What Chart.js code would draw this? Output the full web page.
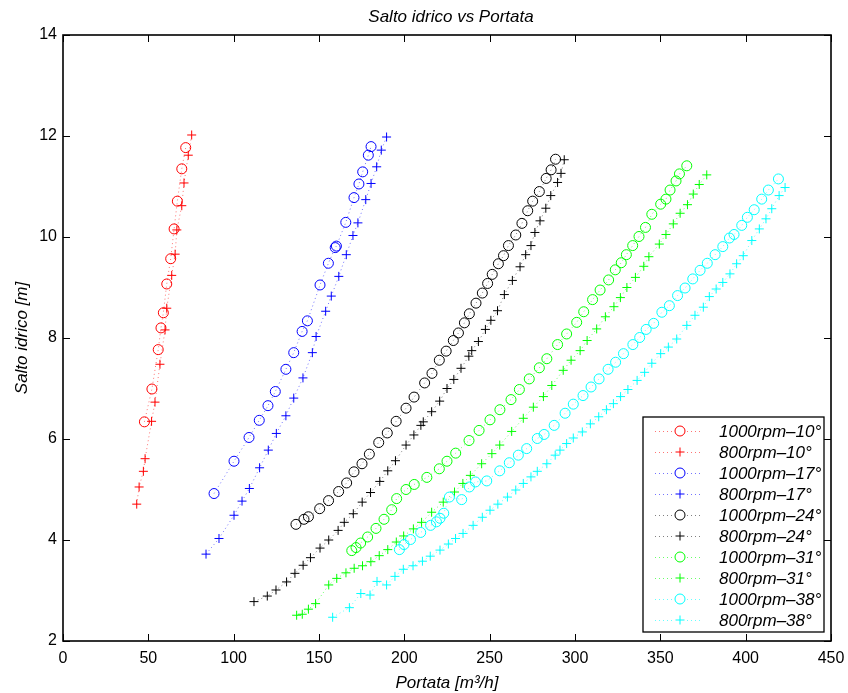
<!DOCTYPE html>
<html>
<head>
<meta charset="utf-8">
<title>Salto idrico vs Portata</title>
<script src="https://cdn.jsdelivr.net/npm/chart.js@4/dist/chart.umd.min.js"></script>
<style>
    html, body { margin: 0; padding: 0; background: #fff; }
    canvas { display: block; }
</style>
</head>
<body>
<canvas id="grafico" width="848" height="693"></canvas>
<script>

// tick dei due assi
const xTicks = [0, 50, 100, 150, 200, 250, 300, 350, 400, 450];
const yTicks = [2, 4, 6, 8, 10, 12, 14];

const etichette = [
    '1000rpm–10°', '800rpm–10°',
    '1000rpm–17°', '800rpm–17°',
    '1000rpm–24°', '800rpm–24°',
    '1000rpm–31°', '800rpm–31°',
    '1000rpm–38°', '800rpm–38°'
];

// portata [m3/h] e salto idrico [m]
const portata1000_10 = [47.7, 52.1, 55.8, 57.4, 58.8, 60.8, 63.1, 65.1, 67.0, 69.6, 71.9];
const salto1000_10 = [6.34, 6.99, 7.77, 8.20, 8.50, 9.07, 9.57, 10.16, 10.71, 11.35, 11.77];

const portata800_10 = [43.2, 44.6, 47.1, 48.1, 51.9, 53.9, 56.8, 59.8, 60.8, 63.7, 65.7, 66.7, 69.6, 70.9, 73.4, 75.4];
const salto800_10 = [4.71, 5.05, 5.36, 5.61, 6.35, 6.73, 7.48, 8.16, 8.59, 9.24, 9.66, 10.14, 10.62, 11.07, 11.62, 12.02];

const portata1000_17 = [88.5, 100.2, 109.0, 115.0, 120.1, 124.4, 130.6, 135.2, 140.1, 143.2, 150.6, 155.5, 159.5, 160.2, 165.7, 170.5, 173.4, 175.6, 178.9, 180.5];
const salto1000_17 = [4.92, 5.56, 6.03, 6.37, 6.66, 6.94, 7.38, 7.71, 8.13, 8.34, 9.05, 9.48, 9.79, 9.82, 10.29, 10.78, 11.05, 11.29, 11.62, 11.79];

const portata800_17 = [83.8, 91.4, 100.2, 104.9, 109.2, 115.2, 120.3, 125.0, 130.6, 135.2, 140.6, 146.1, 148.3, 153.9, 157.2, 161.6, 166.0, 169.9, 172.8, 177.4, 180.5, 183.8, 186.5, 189.6];
const salto800_17 = [3.72, 4.03, 4.49, 4.77, 5.02, 5.43, 5.78, 6.11, 6.46, 6.81, 7.21, 7.71, 8.03, 8.53, 8.83, 9.22, 9.65, 10.03, 10.28, 10.74, 11.06, 11.39, 11.72, 11.98];

const portata1000_24 = [136.5, 141.2, 143.8, 150.4, 155.6, 161.5, 166.2, 170.5, 175.2, 179.5, 185.0, 190.0, 195.2, 201.0, 205.7, 211.9, 216.2, 220.5, 224.5, 228.7, 231.7, 235.2, 238.1, 242.0, 245.7, 248.8, 251.5, 255.1, 258.1, 261.0, 265.3, 268.9, 272.3, 275.2, 279.1, 283.1, 286.0, 288.6];
const salto1000_24 = [4.31, 4.41, 4.46, 4.62, 4.78, 4.96, 5.13, 5.35, 5.51, 5.70, 5.93, 6.12, 6.35, 6.61, 6.83, 7.11, 7.30, 7.56, 7.74, 7.95, 8.10, 8.30, 8.48, 8.69, 8.89, 9.08, 9.26, 9.47, 9.63, 9.83, 10.04, 10.27, 10.52, 10.71, 10.90, 11.16, 11.33, 11.54];

const portata800_24 = [111.9, 119.7, 124.8, 131.0, 135.9, 140.7, 145.0, 150.6, 155.7, 161.2, 164.8, 170.1, 175.3, 180.2, 185.6, 190.3, 194.8, 201.0, 205.6, 209.7, 211.1, 216.0, 220.7, 225.0, 229.0, 233.2, 237.8, 239.5, 243.4, 247.5, 250.7, 254.6, 258.6, 263.3, 267.8, 271.1, 274.2, 276.5, 279.5, 282.9, 285.8, 289.8, 291.8, 293.7];
const salto800_24 = [2.78, 2.89, 3.01, 3.17, 3.34, 3.50, 3.65, 3.84, 4.00, 4.19, 4.35, 4.52, 4.75, 4.94, 5.16, 5.37, 5.57, 5.88, 6.08, 6.27, 6.34, 6.54, 6.75, 7.00, 7.18, 7.40, 7.64, 7.75, 7.93, 8.17, 8.35, 8.54, 8.86, 9.14, 9.41, 9.65, 9.83, 10.09, 10.32, 10.57, 10.82, 11.08, 11.26, 11.53];

const portata1000_31 = [169.2, 171.7, 174.4, 178.5, 183.4, 188.1, 192.6, 195.5, 201.0, 205.8, 213.2, 220.5, 225.0, 230.1, 237.9, 243.8, 250.2, 256.0, 262.5, 267.4, 273.2, 279.1, 283.5, 289.8, 295.1, 301.0, 305.1, 310.3, 314.7, 319.7, 323.6, 327.1, 330.1, 333.8, 337.5, 341.3, 345.0, 350.2, 353.3, 355.7, 359.2, 361.2, 365.5];
const salto1000_31 = [3.79, 3.85, 3.94, 4.06, 4.23, 4.41, 4.60, 4.82, 5.00, 5.10, 5.24, 5.41, 5.56, 5.72, 5.97, 6.17, 6.38, 6.58, 6.78, 6.98, 7.19, 7.41, 7.59, 7.87, 8.08, 8.31, 8.52, 8.76, 8.95, 9.15, 9.35, 9.49, 9.65, 9.83, 10.01, 10.19, 10.45, 10.65, 10.75, 10.93, 11.11, 11.25, 11.41];

const portata800_31 = [136.9, 140.2, 143.8, 148.0, 155.7, 160.4, 165.8, 170.6, 175.5, 180.4, 185.3, 190.3, 195.3, 199.6, 205.3, 210.1, 216.0, 222.8, 229.4, 234.3, 238.7, 245.3, 251.3, 255.9, 262.9, 269.7, 275.6, 281.5, 286.4, 293.1, 297.7, 303.0, 307.1, 312.7, 317.8, 322.8, 326.6, 330.4, 335.4, 340.3, 343.3, 349.4, 353.3, 357.6, 361.6, 365.9, 369.3, 372.8, 377.2];
const salto800_31 = [2.51, 2.53, 2.63, 2.74, 3.11, 3.24, 3.35, 3.44, 3.49, 3.57, 3.69, 3.81, 3.96, 4.08, 4.22, 4.35, 4.55, 4.75, 4.95, 5.12, 5.28, 5.51, 5.71, 5.88, 6.15, 6.41, 6.63, 6.84, 7.06, 7.36, 7.56, 7.75, 7.95, 8.18, 8.42, 8.62, 8.80, 9.00, 9.20, 9.42, 9.61, 9.86, 10.05, 10.26, 10.47, 10.64, 10.85, 11.04, 11.23];

const portata1000_38 = [197.1, 199.8, 203.6, 209.6, 215.4, 218.8, 220.9, 223.1, 226.4, 233.6, 238.1, 241.7, 248.3, 255.9, 261.5, 266.8, 271.7, 277.9, 281.9, 287.8, 294.2, 299.0, 304.7, 309.4, 314.1, 319.4, 323.8, 328.4, 333.9, 337.9, 341.7, 346.1, 350.9, 355.3, 360.1, 364.5, 369.0, 373.3, 377.5, 382.1, 386.6, 390.5, 393.2, 397.7, 401.0, 405.0, 409.4, 413.3, 419.2];
const salto1000_38 = [3.81, 3.91, 4.01, 4.15, 4.29, 4.36, 4.43, 4.53, 4.85, 4.80, 5.05, 5.15, 5.17, 5.37, 5.53, 5.68, 5.81, 6.01, 6.09, 6.27, 6.51, 6.69, 6.86, 7.03, 7.19, 7.38, 7.52, 7.69, 7.87, 8.01, 8.17, 8.29, 8.51, 8.64, 8.84, 8.99, 9.17, 9.34, 9.48, 9.65, 9.81, 9.98, 10.05, 10.23, 10.39, 10.54, 10.75, 10.93, 11.15];

const portata800_38 = [158.0, 167.8, 174.5, 179.9, 184.0, 189.6, 194.5, 199.4, 205.1, 210.6, 215.2, 220.9, 225.8, 230.0, 234.4, 240.3, 245.7, 250.2, 254.8, 260.4, 265.3, 269.7, 274.2, 277.9, 283.5, 288.4, 291.2, 295.1, 299.0, 304.3, 309.0, 313.9, 318.4, 322.5, 326.7, 331.0, 336.4, 340.8, 345.0, 350.2, 354.7, 359.6, 365.5, 370.3, 375.2, 378.7, 382.7, 386.6, 390.8, 394.7, 398.6, 403.6, 408.0, 411.9, 415.3, 419.6, 423.1];
const salto800_38 = [2.47, 2.66, 2.94, 2.91, 3.18, 3.11, 3.28, 3.42, 3.49, 3.58, 3.68, 3.80, 3.92, 4.03, 4.13, 4.29, 4.45, 4.59, 4.71, 4.85, 4.99, 5.12, 5.25, 5.36, 5.51, 5.68, 5.78, 5.91, 6.02, 6.14, 6.30, 6.44, 6.58, 6.70, 6.84, 6.98, 7.16, 7.32, 7.50, 7.69, 7.82, 7.98, 8.25, 8.45, 8.61, 8.82, 8.97, 9.10, 9.27, 9.47, 9.63, 9.93, 10.16, 10.36, 10.56, 10.82, 10.98];


const FONT = "'Liberation Sans', Arial, Helvetica, sans-serif";

Chart.defaults.font.family = FONT;
Chart.defaults.color = '#000';

document.addEventListener('DOMContentLoaded', () => {

    const colori = ['#ff0000', '#0000ff', '#000000', '#00ff00', '#00ffff'];
    const linee = ['rgba(255,0,0,0.55)', 'rgba(0,0,255,0.55)', 'rgba(0,0,0,0.5)', 'rgba(0,255,0,0.6)', 'rgba(0,255,255,0.6)'];

    const portate = [portata1000_10, portata800_10, portata1000_17, portata800_17, portata1000_24,
        portata800_24, portata1000_31, portata800_31, portata1000_38, portata800_38];
    const salti = [salto1000_10, salto800_10, salto1000_17, salto800_17, salto1000_24,
        salto800_24, salto1000_31, salto800_31, salto1000_38, salto800_38];

    let datasets = [];
    for (let i = 0; i < etichette.length; i++) {
        const k = Math.floor(i / 2);
        datasets.push(serie(etichette[i], portate[i], salti[i], colori[k], linee[k], i % 2 === 0 ? 'circle' : 'cross', i));
    }

    createChart(
        document.getElementById('grafico').getContext('2d'),
        { datasets: datasets },
        'scatter',
        {
            responsive: false,
            animation: false,
            events: [],
            devicePixelRatio: 1,
            layout: {
                padding: { top: 35, right: 17, left: 0, bottom: 0 }
            },
            plugins: {
                legend: { display: false },
                tooltip: { enabled: false },
                title: { display: false }
            },
            scales: {
                x: {
                    type: 'linear',
                    min: 0,
                    max: 450,
                    afterBuildTicks: s => { s.ticks = xTicks.map(v => ({ value: v })); },
                    afterFit: s => {
                        s.height = 52;
                        s.paddingLeft = 0;
                        s.paddingRight = 0;
                    },
                    grid: { display: false, drawTicks: false },
                    border: { display: false },
                    ticks: { padding: 8, maxRotation: 0, autoSkip: false, font: { size: 16 } },
                    title: {
                        display: true,
                        text: 'Portata [m³/h]',
                        font: { size: 17, style: 'italic' },
                        padding: { top: 0, bottom: 0 }
                    }
                },
                y: {
                    type: 'linear',
                    min: 2,
                    max: 14,
                    afterBuildTicks: s => { s.ticks = yTicks.map(v => ({ value: v })); },
                    afterFit: s => {
                        s.width = 63;
                        s.paddingTop = 0;
                        s.paddingBottom = 0;
                    },
                    grid: { display: false, drawTicks: false },
                    border: { display: false },
                    ticks: { padding: 6, autoSkip: false, font: { size: 16 } },
                    title: {
                        display: true,
                        text: 'Salto idrico [m]',
                        font: { size: 17, style: 'italic' },
                        padding: { top: 12, bottom: 0 }
                    }
                }
            }
        },
        [assiMatlab, legendaMatlab]
    )
})


function serie(label, xs, ys, colore, linea, stile, i) {
    return {
        label: label,
        data: xs.map((v, j) => ({ x: v, y: ys[j] })),
        showLine: true,
        borderColor: linea,
        borderWidth: 1,
        borderDash: [1, 3],
        pointStyle: stile,
        pointRadius: stile === 'circle' ? 5 : 4.5,
        pointBorderColor: colore,
        pointBackgroundColor: 'rgba(0,0,0,0)',
        pointBorderWidth: 1,
        order: -i
    }
}


// riquadro, tick verso l'interno e titolo come in MATLAB
const assiMatlab = {
    id: 'assiMatlab',
    afterDatasetsDraw(chart) {
        const { ctx, chartArea: a, scales: { x, y } } = chart;
        ctx.save();
        ctx.strokeStyle = '#000';
        ctx.lineWidth = 1;
        ctx.setLineDash([]);
        ctx.beginPath();
        for (const v of xTicks) {
            const px = Math.round(x.getPixelForValue(v)) + 0.5;
            ctx.moveTo(px, a.bottom); ctx.lineTo(px, a.bottom - 7);
            ctx.moveTo(px, a.top); ctx.lineTo(px, a.top + 7);
        }
        for (const v of yTicks) {
            const py = Math.round(y.getPixelForValue(v)) + 0.5;
            ctx.moveTo(a.left, py); ctx.lineTo(a.left + 7, py);
            ctx.moveTo(a.right, py); ctx.lineTo(a.right - 7, py);
        }
        ctx.stroke();
        ctx.lineWidth = 1.6;
        ctx.strokeRect(a.left, a.top, a.right - a.left, a.bottom - a.top);

        ctx.fillStyle = '#000';
        ctx.font = 'italic 17px ' + FONT;
        ctx.textAlign = 'center';
        ctx.textBaseline = 'middle';
        ctx.fillText('Salto idrico vs Portata', (a.left + a.right) / 2 + 4, 17);
        ctx.restore();
    }
}

// legenda dentro l'area del grafico, in basso a destra
const legendaMatlab = {
    id: 'legendaMatlab',
    afterDraw(chart) {
        const { ctx, chartArea: a } = chart;
        const left = a.right - 188, right = a.right - 7;
        const bottom = a.bottom - 9, top = bottom - 215;
        ctx.save();
        ctx.fillStyle = '#fff';
        ctx.fillRect(left, top, right - left, bottom - top);
        ctx.strokeStyle = '#000';
        ctx.lineWidth = 1.3;
        ctx.strokeRect(left, top, right - left, bottom - top);

        chart.data.datasets.forEach((ds, i) => {
            const cy = top + 14 + 21 * i;
            const mx = left + 37;
            ctx.strokeStyle = ds.borderColor;
            ctx.lineWidth = 1;
            ctx.setLineDash([1, 3]);
            ctx.beginPath();
            ctx.moveTo(left + 12, cy + 0.5); ctx.lineTo(left + 60, cy + 0.5);
            ctx.stroke();
            ctx.setLineDash([]);
            ctx.fillStyle = '#fff';
            ctx.fillRect(mx - 6, cy - 6, 12, 12);
            ctx.strokeStyle = ds.pointBorderColor;
            ctx.beginPath();
            if (ds.pointStyle === 'circle') {
                ctx.arc(mx, cy, 5, 0, Math.PI * 2);
            } else {
                ctx.moveTo(mx - 4.5, cy); ctx.lineTo(mx + 4.5, cy);
                ctx.moveTo(mx, cy - 4.5); ctx.lineTo(mx, cy + 4.5);
            }
            ctx.stroke();
            ctx.fillStyle = '#000';
            ctx.font = 'italic 17px ' + FONT;
            ctx.textAlign = 'left';
            ctx.textBaseline = 'middle';
            ctx.fillText(ds.label, left + 76, cy + 1);
        });
        ctx.restore();
    }
}


function createChart(ctx, data, type, options = {}, plugins = []) {
    new Chart(ctx, {
        type: type,
        data: data,
        options: options,
        plugins: plugins
    });
}
</script>
</body>
</html>
